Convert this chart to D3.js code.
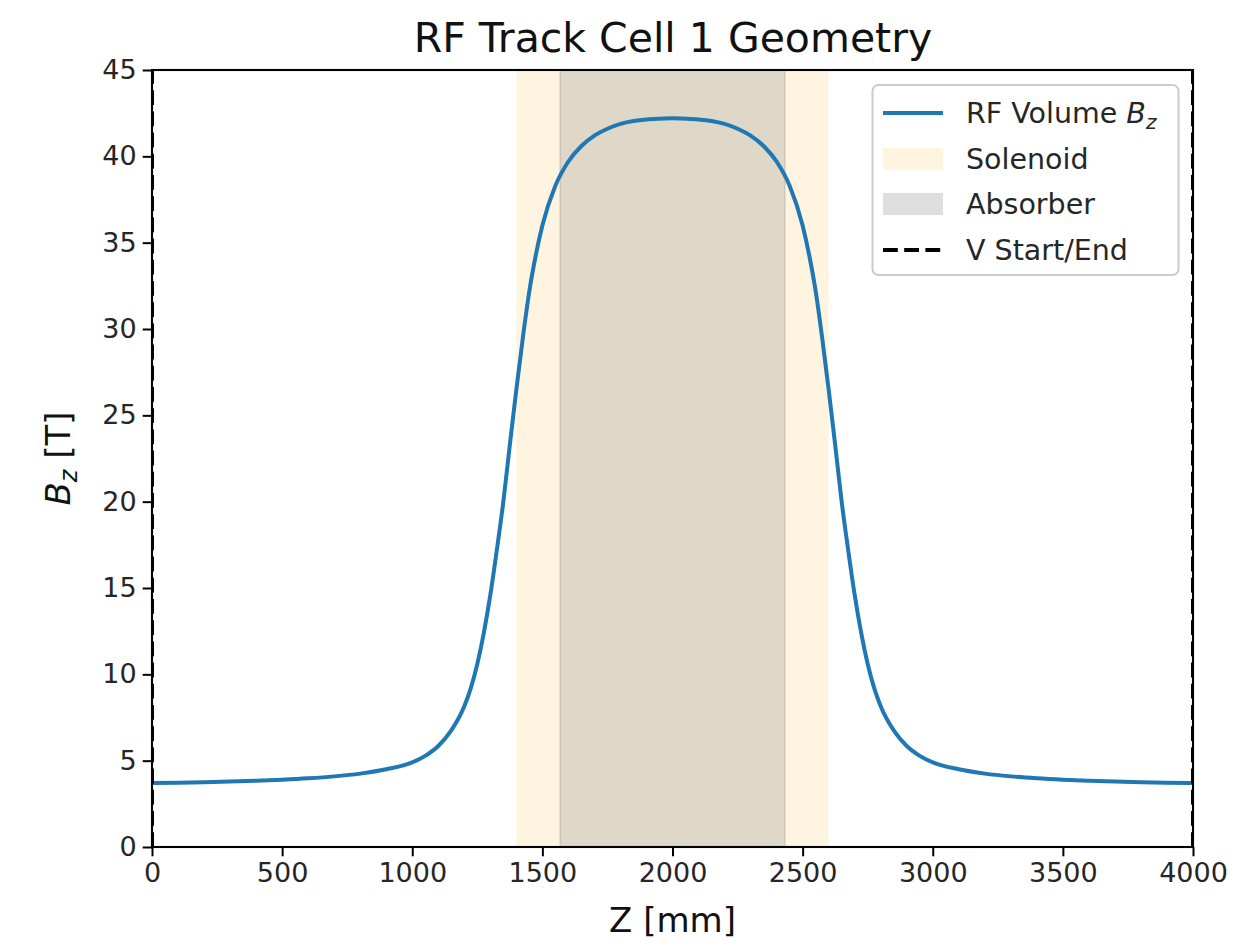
<!DOCTYPE html>
<html>
<head>
<meta charset="utf-8">
<script src="https://cdn.jsdelivr.net/npm/d3@7"></script>
<style>
  html, body { margin: 0; padding: 0; background: #fff; }
  svg { display: block; font-family: "DejaVu Sans", sans-serif; }
</style>
</head>
<body>
<svg id="chart" width="1233" height="946"></svg>
<script>
// ---- data ----
const zValues = [0, 100, 200, 300, 400, 500, 600, 700, 800, 900, 1000, 1050, 1100, 1150, 1200, 1225, 1250, 1275, 1300, 1325, 1350, 1375, 1400, 1425, 1450, 1475, 1500, 1550, 1600, 1650, 1700, 1750, 1800, 1850, 1900, 1950, 2000,
                 2050, 2100, 2150, 2200, 2250, 2300, 2350, 2400, 2450, 2500, 2525, 2550, 2575, 2600, 2625, 2650, 2675, 2700, 2725, 2750, 2775, 2800, 2850, 2900, 2950, 3000, 3100, 3200, 3300, 3400, 3500, 3600, 3700, 3800, 3900, 4000];
const bzValues = [3.70, 3.72, 3.75, 3.79, 3.84, 3.90, 3.98, 4.09, 4.25, 4.50, 4.90, 5.28, 5.85, 6.75, 8.15, 9.20, 10.6, 12.4, 14.6, 17.2, 20.0, 23.3, 26.5, 29.5, 32.2, 34.3, 36.0, 38.3, 39.7, 40.6, 41.2, 41.6, 41.88, 42.05, 42.14, 42.18, 42.20,
                  42.18, 42.14, 42.05, 41.88, 41.6, 41.2, 40.6, 39.7, 38.3, 36.0, 34.3, 32.2, 29.5, 26.5, 23.3, 20.0, 17.2, 14.6, 12.4, 10.6, 9.20, 8.15, 6.75, 5.85, 5.28, 4.90, 4.50, 4.25, 4.09, 3.98, 3.90, 3.84, 3.79, 3.75, 3.72, 3.70];
const solenoidSpan = [1400, 2600];
const absorberSpan = [1568, 2432];
const vStartEnd = [0, 4000];
const xTicks = [0, 500, 1000, 1500, 2000, 2500, 3000, 3500, 4000];
const yTicks = [0, 5, 10, 15, 20, 25, 30, 35, 40, 45];
const xDomain = [0, 4000];
const yDomain = [0, 45];
const legendLabels = ["RF Volume", "Solenoid", "Absorber", "V Start/End"];

// ---- layout ----
const svg = d3.select("#chart");
const L = 152, R = 1193, T = 70, B = 847;
const x = d3.scaleLinear().domain(xDomain).range([L, R]);
const y = d3.scaleLinear().domain(yDomain).range([B, T]);

const lineBlue = "#1f77b4";
const tickFont = 27;

svg.append("defs").append("clipPath").attr("id", "plotclip")
  .append("rect").attr("x", L).attr("y", T).attr("width", R - L).attr("height", B - T);

const plot = svg.append("g").attr("clip-path", "url(#plotclip)");

// spans
plot.append("rect")
  .attr("x", x(solenoidSpan[0])).attr("y", T)
  .attr("width", x(solenoidSpan[1]) - x(solenoidSpan[0])).attr("height", B - T)
  .attr("fill", "rgb(255,165,0)").attr("fill-opacity", 0.12);
plot.append("rect")
  .attr("x", x(absorberSpan[0])).attr("y", T)
  .attr("width", x(absorberSpan[1]) - x(absorberSpan[0])).attr("height", B - T)
  .attr("fill", "rgb(128,128,128)").attr("fill-opacity", 0.25)
  .attr("stroke", "rgb(128,128,128)").attr("stroke-opacity", 0.2).attr("stroke-width", 2);

// curve
const data = zValues.map((z, i) => ({ z, b: bzValues[i] }));
plot.append("path")
  .datum(data)
  .attr("fill", "none")
  .attr("stroke", lineBlue)
  .attr("stroke-width", 4)
  .attr("stroke-linejoin", "round")
  .attr("d", d3.line().x(d => x(d.z)).y(d => y(d.b)).curve(d3.curveMonotoneX));

// V start/end lines
plot.append("g").selectAll("line").data(vStartEnd).join("line")
  .attr("x1", d => x(d)).attr("x2", d => x(d))
  .attr("y1", B).attr("y2", T)
  .attr("stroke", "#000").attr("stroke-width", 4)
  .attr("stroke-dasharray", "14.8,6.4");

// axes
const xAxis = svg.append("g").attr("transform", `translate(0,${B})`)
  .call(d3.axisBottom(x).tickValues(xTicks).tickFormat(d3.format("d")).tickSize(9.3).tickPadding(7));
const yAxis = svg.append("g").attr("transform", `translate(${L},0)`)
  .call(d3.axisLeft(y).tickValues(yTicks).tickFormat(d3.format("d")).tickSize(9.3).tickPadding(6));
[xAxis, yAxis].forEach(g => {
  g.select(".domain").remove();
  g.selectAll(".tick line").attr("stroke", "#000").attr("stroke-width", 2);
  g.selectAll(".tick text").attr("font-size", tickFont).attr("fill", "#262626")
    .attr("font-family", "DejaVu Sans, sans-serif");
});

// frame (spines)
svg.append("rect").attr("x", L).attr("y", T).attr("width", R - L).attr("height", B - T)
  .attr("fill", "none").attr("stroke", "#000").attr("stroke-width", 2.1);

// title
svg.append("text").attr("x", (L + R) / 2 + 0.5).attr("y", 52)
  .attr("text-anchor", "middle").attr("font-size", 41).attr("fill", "#111")
  .text("RF Track Cell 1 Geometry");

// x label
svg.append("text").attr("x", (L + R) / 2).attr("y", 932)
  .attr("text-anchor", "middle").attr("font-size", 34).attr("fill", "#111")
  .text("Z [mm]");

// y label
const yl = svg.append("text")
  .attr("transform", `translate(70,${(T + B) / 2}) rotate(-90)`)
  .attr("text-anchor", "middle").attr("font-size", 34).attr("fill", "#111");
yl.append("tspan").attr("font-style", "italic").text("B");
yl.append("tspan").attr("font-style", "italic").attr("font-size", 24).attr("dy", 7).text("z");
yl.append("tspan").attr("dy", -7).text(" [T]");

// legend
const lg = svg.append("g");
lg.append("rect").attr("x", 872.5).attr("y", 85).attr("width", 306).attr("height", 190)
  .attr("rx", 6).attr("fill", "#fff").attr("fill-opacity", 0.8)
  .attr("stroke", "#ccc").attr("stroke-width", 2);
const rowY = [113, 159, 204, 250];
const hx0 = 883, hx1 = 943, tx = 966;
lg.append("line").attr("x1", hx0).attr("x2", hx1).attr("y1", rowY[0]).attr("y2", rowY[0])
  .attr("stroke", lineBlue).attr("stroke-width", 4);
lg.append("rect").attr("x", hx0).attr("y", rowY[1] - 11).attr("width", hx1 - hx0).attr("height", 22)
  .attr("fill", "rgb(255,165,0)").attr("fill-opacity", 0.12);
lg.append("rect").attr("x", hx0).attr("y", rowY[2] - 11).attr("width", hx1 - hx0).attr("height", 22)
  .attr("fill", "rgb(128,128,128)").attr("fill-opacity", 0.25);
lg.append("line").attr("x1", hx0).attr("x2", hx1).attr("y1", rowY[3]).attr("y2", rowY[3])
  .attr("stroke", "#000").attr("stroke-width", 4).attr("stroke-dasharray", "14.8,6.4");

rowY.forEach((ry, i) => {
  const t = lg.append("text").attr("x", tx).attr("y", ry + 10)
    .attr("font-size", 28.5).attr("fill", "#262626");
  t.append("tspan").text(legendLabels[i]);
  if (i === 0) {
    t.append("tspan").text(" ");
    t.append("tspan").attr("font-style", "italic").text("B");
    t.append("tspan").attr("font-style", "italic").attr("font-size", 20).attr("dy", 6).text("z");
  }
});
</script>
</body>
</html>
